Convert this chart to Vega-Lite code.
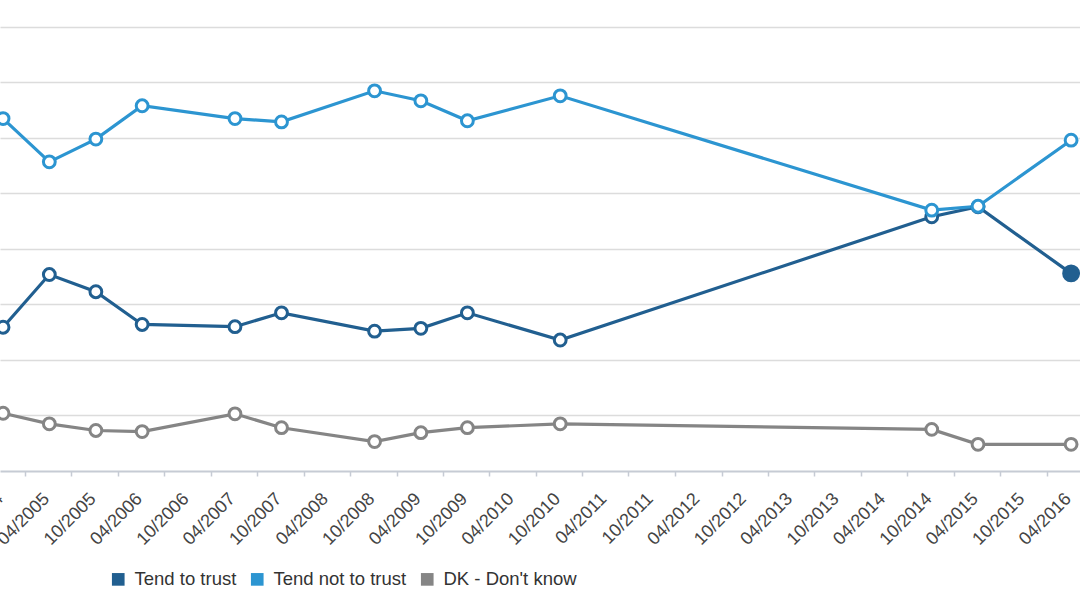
{
  "$schema": "https://vega.github.io/schema/vega-lite/v6.json",
  "width": 1080,
  "height": 471,
  "autosize": {"type": "none"},
  "padding": {"left": 0, "top": 0, "right": 0, "bottom": 136},
  "background": "white",
  "config": {
    "view": {"stroke": null},
    "font": "Liberation Sans"
  },
  "data": {
    "values": [
      {"date": "2004/10/01", "series": "Tend to trust", "value": 25.9},
      {"date": "2005/04/01", "series": "Tend to trust", "value": 35.4},
      {"date": "2005/10/01", "series": "Tend to trust", "value": 32.3},
      {"date": "2006/04/01", "series": "Tend to trust", "value": 26.4},
      {"date": "2007/04/01", "series": "Tend to trust", "value": 26.0},
      {"date": "2007/10/01", "series": "Tend to trust", "value": 28.5},
      {"date": "2008/10/01", "series": "Tend to trust", "value": 25.2},
      {"date": "2009/04/01", "series": "Tend to trust", "value": 25.7},
      {"date": "2009/10/01", "series": "Tend to trust", "value": 28.5},
      {"date": "2010/10/01", "series": "Tend to trust", "value": 23.6},
      {"date": "2014/10/01", "series": "Tend to trust", "value": 45.8},
      {"date": "2015/04/01", "series": "Tend to trust", "value": 47.6},
      {"date": "2016/04/01", "series": "Tend to trust", "value": 35.6},
      {"date": "2004/10/01", "series": "Tend not to trust", "value": 63.5},
      {"date": "2005/04/01", "series": "Tend not to trust", "value": 55.7},
      {"date": "2005/10/01", "series": "Tend not to trust", "value": 59.8},
      {"date": "2006/04/01", "series": "Tend not to trust", "value": 65.8},
      {"date": "2007/04/01", "series": "Tend not to trust", "value": 63.5},
      {"date": "2007/10/01", "series": "Tend not to trust", "value": 62.9},
      {"date": "2008/10/01", "series": "Tend not to trust", "value": 68.5},
      {"date": "2009/04/01", "series": "Tend not to trust", "value": 66.7},
      {"date": "2009/10/01", "series": "Tend not to trust", "value": 63.1},
      {"date": "2010/10/01", "series": "Tend not to trust", "value": 67.6},
      {"date": "2014/10/01", "series": "Tend not to trust", "value": 47.0},
      {"date": "2015/04/01", "series": "Tend not to trust", "value": 47.7},
      {"date": "2016/04/01", "series": "Tend not to trust", "value": 59.6},
      {"date": "2004/10/01", "series": "DK - Don't know", "value": 10.4},
      {"date": "2005/04/01", "series": "DK - Don't know", "value": 8.5},
      {"date": "2005/10/01", "series": "DK - Don't know", "value": 7.3},
      {"date": "2006/04/01", "series": "DK - Don't know", "value": 7.1},
      {"date": "2007/04/01", "series": "DK - Don't know", "value": 10.3},
      {"date": "2007/10/01", "series": "DK - Don't know", "value": 7.8},
      {"date": "2008/10/01", "series": "DK - Don't know", "value": 5.3},
      {"date": "2009/04/01", "series": "DK - Don't know", "value": 6.9},
      {"date": "2009/10/01", "series": "DK - Don't know", "value": 7.8},
      {"date": "2010/10/01", "series": "DK - Don't know", "value": 8.5},
      {"date": "2014/10/01", "series": "DK - Don't know", "value": 7.5},
      {"date": "2015/04/01", "series": "DK - Don't know", "value": 4.8},
      {"date": "2016/04/01", "series": "DK - Don't know", "value": 4.8}
    ]
  },
  "encoding": {
    "x": {
      "field": "date",
      "type": "temporal",
      "scale": {
        "domain": [{"year": 2004, "month": 9, "date": 19}, {"year": 2016, "month": 5, "date": 6}],
        "nice": false
      },
      "axis": {
        "title": null,
        "grid": false,
        "format": "%m/%Y",
        "values": [
          {"year": 2004, "month": 10, "date": 1}, {"year": 2005, "month": 4, "date": 1},
          {"year": 2005, "month": 10, "date": 1}, {"year": 2006, "month": 4, "date": 1},
          {"year": 2006, "month": 10, "date": 1}, {"year": 2007, "month": 4, "date": 1},
          {"year": 2007, "month": 10, "date": 1}, {"year": 2008, "month": 4, "date": 1},
          {"year": 2008, "month": 10, "date": 1}, {"year": 2009, "month": 4, "date": 1},
          {"year": 2009, "month": 10, "date": 1}, {"year": 2010, "month": 4, "date": 1},
          {"year": 2010, "month": 10, "date": 1}, {"year": 2011, "month": 4, "date": 1},
          {"year": 2011, "month": 10, "date": 1}, {"year": 2012, "month": 4, "date": 1},
          {"year": 2012, "month": 10, "date": 1}, {"year": 2013, "month": 4, "date": 1},
          {"year": 2013, "month": 10, "date": 1}, {"year": 2014, "month": 4, "date": 1},
          {"year": 2014, "month": 10, "date": 1}, {"year": 2015, "month": 4, "date": 1},
          {"year": 2015, "month": 10, "date": 1}, {"year": 2016, "month": 4, "date": 1}
        ],
        "tickOffset": 22,
        "labelOffset": -25,
        "labelAngle": -45,
        "labelAlign": "right",
        "labelBaseline": "middle",
        "labelPadding": 20,
        "labelFontSize": 18,
        "labelColor": "#444444",
        "labelFont": "Liberation Sans",
        "labelOverlap": false,
        "labelBound": false,
        "labelFlush": false,
        "tickSize": 5,
        "tickColor": "#c6cbd4",
        "tickWidth": 1.5,
        "domainColor": "#c6cbd4",
        "domainWidth": 2
      }
    },
    "y": {
      "field": "value",
      "type": "quantitative",
      "scale": {"domain": [0, 84.86], "nice": false, "zero": true},
      "axis": {
        "title": null,
        "labels": false,
        "ticks": false,
        "domain": false,
        "grid": true,
        "values": [10, 20, 30, 40, 50, 60, 70, 80],
        "gridColor": "#dcdcdc",
        "gridWidth": 1.5
      }
    },
    "color": {
      "field": "series",
      "type": "nominal",
      "scale": {
        "domain": ["Tend to trust", "Tend not to trust", "DK - Don't know"],
        "range": ["#215f90", "#2c95d1", "#858585"]
      },
      "legend": {
        "title": null,
        "orient": "none",
        "legendX": 109,
        "legendY": 570,
        "direction": "horizontal",
        "symbolType": "square",
        "symbolSize": 160,
        "labelFontSize": 18.5,
        "labelFont": "Liberation Sans",
        "labelColor": "#333333",
        "labelOffset": 7,
        "columnPadding": 11,
        "encode": {
          "symbols": {
            "update": {
              "fill": {"scale": "color", "field": "value"},
              "stroke": {"value": "transparent"},
              "strokeWidth": {"value": 0}
            }
          }
        }
      }
    }
  },
  "layer": [
    {
      "mark": {"type": "line", "strokeWidth": 3.2, "interpolate": "linear"},
      "encoding": {}
    },
    {
      "mark": {"type": "point", "shape": "circle", "strokeWidth": 3, "opacity": 1, "filled": false},
      "encoding": {
        "fill": {
          "condition": {"test": "datum.series === 'Tend to trust' && year(datum.date) === 2016", "value": "#215f90"},
          "value": "white"
        },
        "size": {
          "condition": {"test": "datum.series === 'Tend to trust' && year(datum.date) === 2016", "value": 220},
          "value": 140
        }
      }
    }
  ]
}
